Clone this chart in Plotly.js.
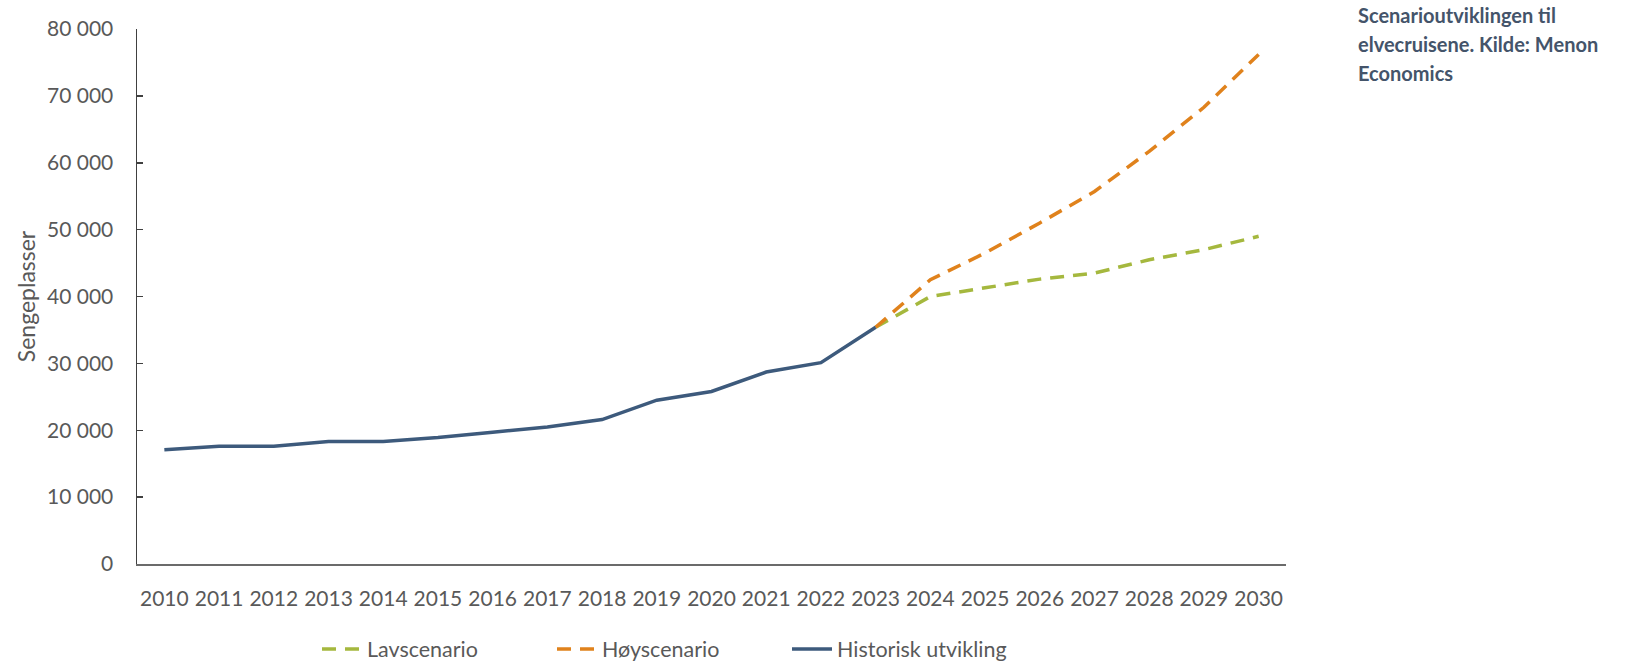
<!DOCTYPE html>
<html>
<head>
<meta charset="utf-8">
<script src="https://cdn.plot.ly/plotly-3.0.1.min.js"></script>
<style>html,body{margin:0;padding:0;background:#fff;}#chart{width:1636px;height:662px;}</style>
</head>
<body>
<div id="chart"></div>
<script>
const years = ["2010","2011","2012","2013","2014","2015","2016","2017","2018","2019","2020","2021","2022","2023","2024","2025","2026","2027","2028","2029","2030"];
const scenarioYears = ["2023","2024","2025","2026","2027","2028","2029","2030"];
const historisk = [17100, 17600, 17600, 18300, 18300, 18900, 19700, 20500, 21600, 24500, 25800, 28700, 30100, 35400];
const lavscenario = [35400, 40000, 41300, 42600, 43500, 45500, 47000, 49000];
const hoyscenario = [35400, 42500, 46500, 51000, 55700, 61700, 68300, 76200];
const yTicks = [0, 10000, 20000, 30000, 40000, 50000, 60000, 70000, 80000];
const yTickText = ["0", "10 000", "20 000", "30 000", "40 000", "50 000", "60 000", "70 000", "80 000"];
const titleLines = ["Scenarioutviklingen til", "elvecruisene. Kilde: Menon", "Economics"];

const FONT = "Lato, 'Open Sans', sans-serif";
const GREY = "#595959";

const traces = [
  {x: scenarioYears, y: lavscenario, name: "Lavscenario", type: "scatter", mode: "lines",
   line: {color: "#A5B83E", width: 3.5, dash: "14px,9px"}},
  {x: scenarioYears, y: hoyscenario, name: "Høyscenario", type: "scatter", mode: "lines",
   line: {color: "#E0821C", width: 3.5, dash: "14px,9px"}},
  {x: years.slice(0, historisk.length), y: historisk, name: "Historisk utvikling", type: "scatter", mode: "lines",
   line: {color: "#3D5A7C", width: 3.5}}
];

const titleY = [15.5, 44, 73];
const annotations = titleLines.map((t, i) => ({
  text: t,
  xref: "paper", yref: "paper",
  x: (1356 - 137) / 1149, xanchor: "left",
  y: (564 - titleY[i]) / 535, yanchor: "middle",
  align: "left", showarrow: false,
  font: {family: FONT, size: 20, color: "#44546A", weight: 700}
}));

const layout = {
  width: 1636, height: 662,
  margin: {l: 137, r: 350, t: 29, b: 98},
  paper_bgcolor: "#fff", plot_bgcolor: "#fff",
  font: {family: FONT, color: GREY, size: 21},
  annotations: annotations,
  xaxis: {
    type: "category",
    categoryorder: "array", categoryarray: years,
    range: [-0.5, 20.5],
    showgrid: false, zeroline: false,
    showline: true, linecolor: "#6b6b6b", linewidth: 2,
    ticks: "", ticklabelstandoff: 15,
    tickfont: {family: FONT, size: 21, color: GREY},
    fixedrange: true
  },
  yaxis: {
    range: [0, 80000],
    tickvals: yTicks, ticktext: yTickText,
    showgrid: false, zeroline: false,
    showline: true, linecolor: "#404040", linewidth: 1.5,
    ticks: "inside", ticklen: 6, tickwidth: 1.5, tickcolor: "#404040",
    ticklabelstandoff: 18,
    tickfont: {family: FONT, size: 21, color: GREY},
    title: {text: "Sengeplasser", font: {family: FONT, size: 23, color: GREY}, standoff: 5},
    fixedrange: true
  },
  showlegend: true,
  legend: {
    orientation: "h",
    x: 317/1636, xref: "container", xanchor: "left",
    y: 1 - 649/662, yref: "container", yanchor: "middle",
    font: {family: FONT, size: 21.5, color: GREY},
    entrywidth: 180, entrywidthmode: "pixels",
    itemwidth: 40,
    traceorder: "normal",
    bgcolor: "rgba(0,0,0,0)"
  }
};

Plotly.newPlot("chart", traces, layout, {displayModeBar: false, staticPlot: true});
</script>
</body>
</html>
